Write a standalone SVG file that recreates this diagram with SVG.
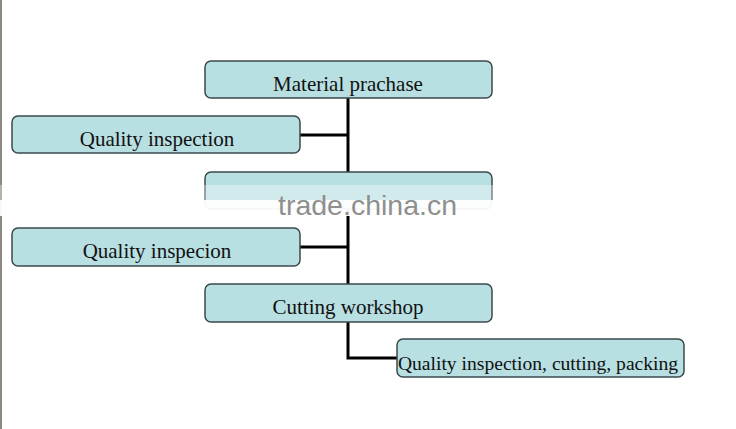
<svg xmlns="http://www.w3.org/2000/svg" width="736" height="429" viewBox="0 0 736 429">
<style>
.box{fill:#b8dfe2;stroke:#3a4a4c;stroke-width:1.5}
.lbl{font-family:"Liberation Serif","Times New Roman",serif;font-size:21px;fill:#111;text-anchor:middle}
.con{fill:none;stroke:#000;stroke-width:3}
</style>
<rect width="736" height="429" fill="#fff"/>
<line x1="1" y1="0" x2="1" y2="429" stroke="#8a8a80" stroke-width="2"/>
<g id="connectors">
<path class="con" d="M348 98 V284"/>
<path class="con" d="M300 135 H348"/>
<path class="con" d="M300 247 H348"/>
<path class="con" d="M348 322 V358 H397"/>
</g>
<g id="n1"><rect class="box" x="205" y="61" width="287" height="37" rx="6"/><text class="lbl" x="348" y="91">Material prachase</text></g>
<g id="n2"><rect class="box" x="12" y="116" width="288" height="37" rx="6"/><text class="lbl" x="157" y="146">Quality inspection</text></g>
<g id="n3"><rect class="box" x="205" y="172" width="287" height="37" rx="6"/></g>
<g id="n4"><rect class="box" x="12" y="228" width="288" height="38" rx="6"/><text class="lbl" x="157" y="258">Quality inspecion</text></g>
<g id="n5"><rect class="box" x="205" y="284" width="287" height="38" rx="6"/><text class="lbl" x="348" y="314">Cutting workshop</text></g>
<g id="n6"><rect class="box" x="397" y="339" width="287" height="38" rx="6"/><text class="lbl" x="538" y="370" style="font-size:19.6px">Quality inspection, cutting, packing</text></g>
<rect x="0" y="185" width="500" height="15" fill="#fff" opacity="0.35"/>
<rect x="0" y="200" width="500" height="16" fill="#fff" opacity="0.95"/>
<text x="278" y="215" font-family="Liberation Sans,Arial,sans-serif" font-size="28.5" fill="#8f8f8f">trade.china.cn</text>
</svg>
